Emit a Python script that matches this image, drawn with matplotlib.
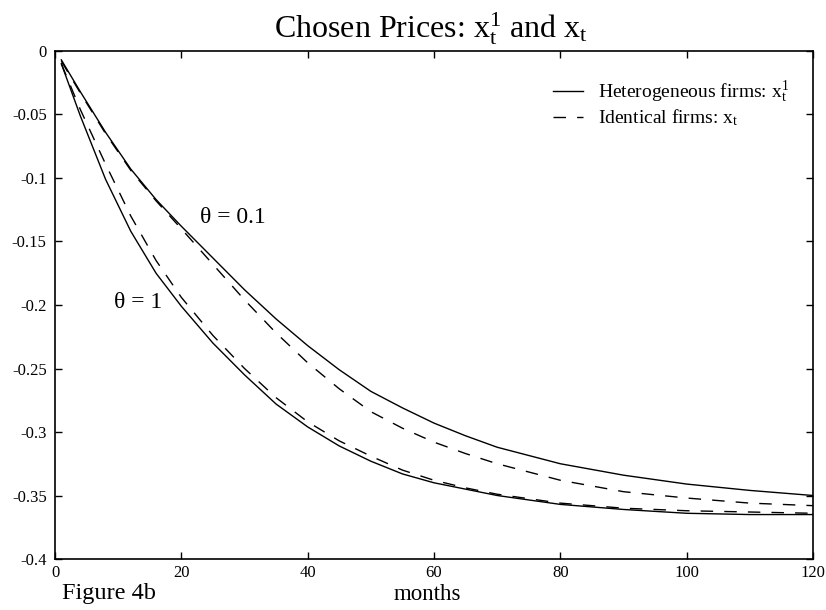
import matplotlib
matplotlib.use("Agg")
import matplotlib.pyplot as plt

plt.rcParams['font.family'] = 'Liberation Serif'
plt.rcParams['mathtext.fontset'] = 'custom'
plt.rcParams['mathtext.rm'] = 'Liberation Serif'
plt.rcParams['mathtext.it'] = 'Liberation Serif:italic'

# values (months vs chosen price)
months = [1, 4, 8, 12, 16, 20, 25, 30, 35, 40, 45, 50, 55, 60, 65, 70, 80, 90, 100, 110, 120]

# theta = 0.1
hetero_01 = [-0.007, -0.032, -0.064, -0.093, -0.117, -0.138, -0.163, -0.188, -0.211, -0.232,
             -0.251, -0.268, -0.281, -0.293, -0.303, -0.312, -0.325, -0.334, -0.341, -0.346, -0.350]
ident_01 = [-0.008, -0.033, -0.065, -0.094, -0.118, -0.140, -0.168, -0.196, -0.222, -0.2455,
            -0.266, -0.284, -0.297, -0.308, -0.317, -0.325, -0.338, -0.347, -0.352, -0.356, -0.358]

# theta = 1
hetero_1 = [-0.010, -0.051, -0.101, -0.142, -0.175, -0.201, -0.230, -0.255, -0.278, -0.296,
            -0.311, -0.323, -0.333, -0.340, -0.345, -0.350, -0.357, -0.361, -0.364, -0.365, -0.365]
ident_1 = [-0.010, -0.046, -0.089, -0.130, -0.165, -0.194, -0.224, -0.250, -0.273, -0.292,
           -0.307, -0.319, -0.330, -0.338, -0.344, -0.349, -0.356, -0.360, -0.362, -0.363, -0.364]

xticks = [0, 20, 40, 60, 80, 100, 120]
yticks = [0, -0.05, -0.1, -0.15, -0.2, -0.25, -0.3, -0.35, -0.4]
ytick_labels = ['0', '-0.05', '-0.1', '-0.15', '-0.2', '-0.25', '-0.3', '-0.35', '-0.4']

fig = plt.figure(figsize=(8.26, 6.10), dpi=100)
ax = fig.add_axes([0.0666, 0.0836, 0.9177, 0.8328])

dash = (9, 8)
ax.plot(months, hetero_01, color='black', lw=1.0,
        label=r'Heterogeneous firms: $\mathrm{x}_\mathrm{t}^1$')
ax.plot(months, ident_01, color='black', lw=1.0, dashes=dash,
        label=r'Identical firms: $\mathrm{x}_\mathrm{t}$')
ax.plot(months, hetero_1, color='black', lw=1.0)
ax.plot(months, ident_1, color='black', lw=1.0, dashes=dash)

ax.text(28.2, -0.131, 'θ = 0.1', fontsize=17, ha='center', va='center')
ax.text(13.1, -0.198, 'θ = 1', fontsize=17, ha='center', va='center')

ax.set_xlim(0, 120)
ax.set_ylim(-0.4, 0)
ax.set_xticks(xticks)
ax.set_xticklabels([str(t) for t in xticks])
ax.set_yticks(yticks)
ax.set_yticklabels(ytick_labels)
ax.tick_params(direction='in', top=True, right=True, length=5, width=1, labelsize=12)
ax.tick_params(axis='x', pad=4)
ax.tick_params(axis='y', pad=6)
for s in ax.spines.values():
    s.set_linewidth(1.2)

leg = ax.legend(loc='upper right', bbox_to_anchor=(0.992, 0.978), frameon=False,
                fontsize=14, handlelength=1.55, handletextpad=0.8, labelspacing=0.1)

fig.text(0.522, 1 - 29 / 610, r'Chosen Prices: $\mathrm{x}_\mathrm{t}^1$ and $\mathrm{x}_\mathrm{t}$',
         fontsize=23, ha='center', va='center')
fig.text(0.517, 1 - 594 / 610, 'months', fontsize=16.5, ha='center', va='center')
fig.text(0.132, 1 - 594 / 610, 'Figure 4b', fontsize=17.5, ha='center', va='center')

fig.savefig('out.png', dpi=100)
